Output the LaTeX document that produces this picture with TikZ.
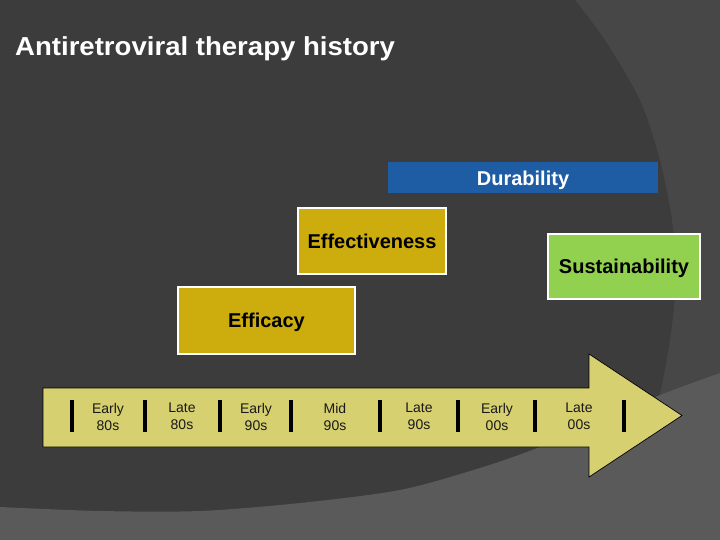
\documentclass[tikz,border=0pt]{standalone}
\usepackage{graphicx}
\usepackage{fontspec}
\setmainfont{Liberation Sans}
\definecolor{bgdark}{HTML}{3C3C3C}
\definecolor{bgmid}{HTML}{474747}
\definecolor{bglight}{HTML}{5A5A5A}
\definecolor{goldc}{HTML}{CDAD0D}
\definecolor{greenc}{HTML}{92D050}
\definecolor{bluec}{HTML}{1E5CA4}
\definecolor{arrowc}{HTML}{D6D070}
\tikzset{
  stagebox/.style={draw=white, line width=2pt, inner sep=0pt, text=black,
    text height=14.4pt, text depth=0pt,
    font=\fontsize{20}{24}\selectfont\bfseries},
  periodlabel/.style={align=center, inner sep=0pt, text=black!90,
    font=\fontsize{14}{17}\selectfont},
  tickbar/.style={line width=4pt, black}
}
\begin{document}
\begin{tikzpicture}[x=1pt,y=-1pt]
\useasboundingbox (0,0) rectangle (720,540);
% background
\fill[bgdark] (0,0) rectangle (720,540);
\fill[bgmid] plot[smooth] coordinates {(575,0) (605,40) (640,100) (660,160) (672,220) (676,280) (670,340) (660,395)}
  -- (720,373) -- (720,0) -- cycle;
\fill[bglight] plot[smooth] coordinates {(0,507) (100,511) (200,511) (300,503) (400,490) (480,468) (540,447) (600,421) (660,395) (720,373)}
  -- (720,540) -- (0,540) -- cycle;
% title
\node[anchor=base west, inner sep=0pt, text=white, font=\fontsize{26}{30}\selectfont\bfseries]
  (title) at (15,56) {\scalebox{1.06}[1]{Antiretroviral therapy history}};
% stage boxes
\node[fill=bluec, inner sep=0pt, minimum width=270pt, minimum height=31pt, text=white,
  text height=14.4pt, text depth=0pt,
  font=\fontsize{20}{24}\selectfont\bfseries] (durability) at (523,178) {Durability};
\node[stagebox, fill=goldc, minimum width=148pt, minimum height=65pt] (effectiveness) at (372,241) {Effectiveness};
\node[stagebox, fill=greenc, minimum width=152pt, minimum height=65pt] (sustainability) at (624,266) {Sustainability};
\node[stagebox, fill=goldc, minimum width=177pt, minimum height=67pt] (efficacy) at (266.5,320) {Efficacy};
% timeline arrow
\filldraw[fill=arrowc, draw=black, line width=0.7pt]
  (43,388) -- (589,388) -- (589,354) -- (682,415.5) -- (589,477) -- (589,447) -- (43,447) -- cycle;
% tick bars
\foreach \x in {72,145,220,291,380,458,535,624}
  \draw[tickbar] (\x,400) -- (\x,432);
% period labels
\node[periodlabel] (p1) at (108,416.5) {Early\\80s};
\node[periodlabel] (p2) at (182,416.5) {Late\vphantom{y}\\80s};
\node[periodlabel] (p3) at (256,416.5) {Early\\90s};
\node[periodlabel] (p4) at (335,416.5) {Mid\vphantom{y}\\90s};
\node[periodlabel] (p5) at (419,416.5) {Late\vphantom{y}\\90s};
\node[periodlabel] (p6) at (497,416.5) {Early\\00s};
\node[periodlabel] (p7) at (579,416.5) {Late\vphantom{y}\\00s};
\end{tikzpicture}
\end{document}
